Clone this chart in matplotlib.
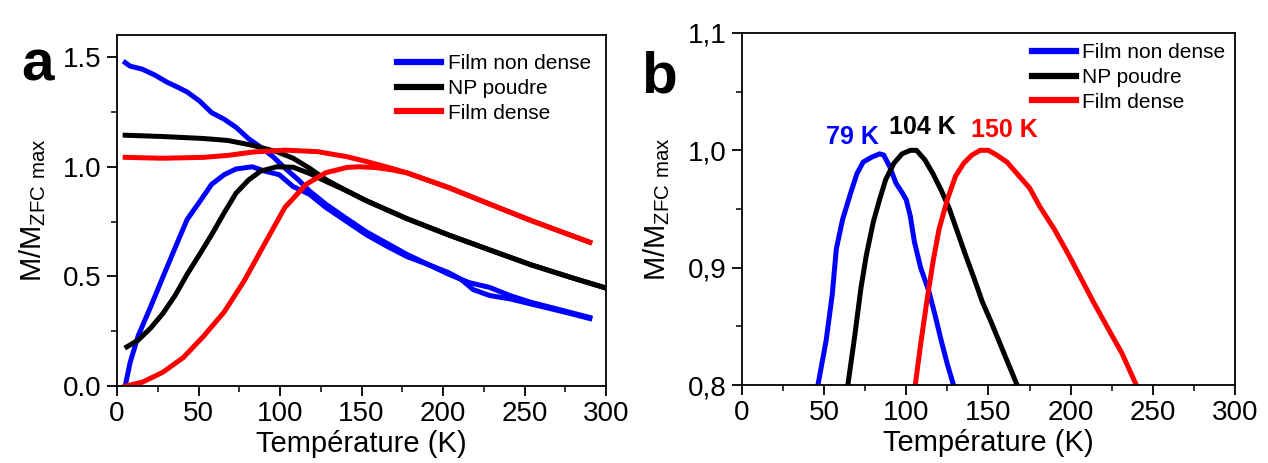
import matplotlib
matplotlib.use("Agg")
import matplotlib.pyplot as plt
from matplotlib.ticker import MultipleLocator, FuncFormatter

plt.rcParams['font.family'] = ['Liberation Sans', 'DejaVu Sans']
plt.rcParams['mathtext.default'] = 'regular'

# ---- panel a : ZFC / FC curves ----
t_blue_zfc = [5, 8, 13, 20.5, 28, 35.6, 43, 50.6, 58, 65.7, 73, 83, 90.7, 99.5, 108, 118, 128, 141,
              153, 166, 178, 191, 203.5, 211, 218.5, 228.6, 241, 253.6, 266, 278.7, 290]
m_blue_zfc = [0.0, 0.107, 0.23, 0.36, 0.495, 0.63, 0.76, 0.84, 0.92, 0.964, 0.99, 1.0, 0.98, 0.964,
              0.91, 0.875, 0.815, 0.75, 0.69, 0.636, 0.59, 0.554, 0.517, 0.487, 0.44, 0.413, 0.398,
              0.375, 0.353, 0.33, 0.308]
t_blue_fc = [5, 8, 15.5, 23, 30.6, 38, 43, 50.6, 58, 65.7, 73, 80.7, 88, 95.7, 103, 111, 118, 128,
             141, 153, 178, 203.5, 216, 228.6, 241, 253.6, 290]
m_blue_fc = [1.475, 1.459, 1.445, 1.419, 1.386, 1.36, 1.341, 1.3, 1.247, 1.217, 1.18, 1.128, 1.09,
             1.046, 0.994, 0.942, 0.89, 0.83, 0.763, 0.703, 0.6, 0.51, 0.472, 0.45, 0.413, 0.383, 0.313]

t_black_zfc = [6, 13, 20.5, 28, 35.6, 43, 50.6, 58, 65.7, 73, 80.7, 88, 98, 108, 118, 128, 141, 153,
               178, 203.5, 228.6, 253.6, 278.7, 300]
m_black_zfc = [0.179, 0.21, 0.264, 0.33, 0.413, 0.51, 0.6, 0.69, 0.79, 0.88, 0.94, 0.98, 1.0, 0.998,
               0.97, 0.934, 0.89, 0.845, 0.763, 0.689, 0.621, 0.554, 0.495, 0.447]
t_black_fc = [5, 28, 53, 68, 83, 98, 108, 118, 128, 141, 153, 178, 203.5, 228.6, 253.6, 278.7, 300]
m_black_fc = [1.144, 1.138, 1.129, 1.12, 1.098, 1.069, 1.039, 0.994, 0.942, 0.89, 0.845, 0.763,
              0.689, 0.621, 0.554, 0.495, 0.447]

t_red_zfc = [5, 15.5, 28, 40.6, 53, 65.7, 78, 90.7, 103, 116, 128, 141, 148, 158, 168, 178, 203.5,
             228.6, 253.6, 290]
m_red_zfc = [0.0, 0.018, 0.063, 0.13, 0.227, 0.338, 0.48, 0.651, 0.815, 0.92, 0.973, 0.997, 1.0,
             0.997, 0.987, 0.972, 0.905, 0.83, 0.756, 0.656]
t_red_fc = [5, 28, 53, 68, 83, 103, 123, 141, 153, 168, 178, 203.5, 228.6, 253.6, 290]
m_red_fc = [1.043, 1.039, 1.043, 1.052, 1.067, 1.076, 1.069, 1.046, 1.024, 0.994, 0.972, 0.905,
            0.83, 0.756, 0.656]

# ---- panel b : zoom around the maxima ----
t_b_blue = [46.3, 51.3, 55, 57.5, 61.3, 66.3, 70, 73.8, 78.8, 83.8, 86.3, 90, 93.8, 97.5, 100, 102.5,
            105, 108.8, 113.8, 117.5, 121.3, 125, 128.8]
m_b_blue = [0.80, 0.838, 0.877, 0.916, 0.941, 0.964, 0.98, 0.99, 0.994, 0.997, 0.996, 0.986, 0.972,
            0.964, 0.958, 0.944, 0.922, 0.9, 0.88, 0.86, 0.838, 0.818, 0.8]
t_b_black = [64.5, 68.8, 72.5, 75.8, 80, 83.8, 87.5, 92.5, 97.5, 102.5, 106.3, 111.3, 116.3, 121.3,
             126.3, 131.3, 136.3, 141.3, 146.3, 151.3, 156.3, 161.3, 167.5]
m_b_black = [0.8, 0.843, 0.883, 0.911, 0.939, 0.958, 0.975, 0.989, 0.997, 1.0, 1.0, 0.992, 0.98,
             0.966, 0.95, 0.93, 0.91, 0.891, 0.871, 0.855, 0.838, 0.821, 0.8]
t_b_red = [105.5, 108.8, 112.5, 116.3, 120, 125, 130, 135, 140, 145, 150, 155, 161.3, 167.5, 175,
           181.3, 190, 198.8, 206.3, 213.8, 222.5, 231.3, 240]
m_b_red = [0.8, 0.835, 0.871, 0.905, 0.933, 0.958, 0.978, 0.989, 0.996, 1.0, 1.0, 0.996, 0.99, 0.98,
           0.968, 0.952, 0.933, 0.911, 0.891, 0.871, 0.849, 0.827, 0.8]

labels = ["Film non dense", "NP poudre", "Film dense"]
colors = ["#0000ff", "#000000", "#ff0000"]
peak_text = ["79 K", "104 K", "150 K"]
peak_pos = [(67.5, 1.011), (109.6, 1.02), (160, 1.017)]

fig = plt.figure(figsize=(12.68, 4.63), dpi=100)
ax1 = fig.add_axes([0.0923, 0.166, 0.3857, 0.758])
ax2 = fig.add_axes([0.585, 0.168, 0.389, 0.761])

lw = 3.6
ax1.plot(t_blue_zfc, m_blue_zfc, color=colors[0], lw=lw, label=labels[0])
ax1.plot(t_blue_fc, m_blue_fc, color=colors[0], lw=lw)
ax1.plot(t_black_zfc, m_black_zfc, color=colors[1], lw=lw, label=labels[1])
ax1.plot(t_black_fc, m_black_fc, color=colors[1], lw=lw)
ax1.plot(t_red_zfc, m_red_zfc, color=colors[2], lw=lw, label=labels[2])
ax1.plot(t_red_fc, m_red_fc, color=colors[2], lw=lw)
ax1.set_xlim(0, 300)
ax1.set_ylim(0, 1.6)
ax1.yaxis.set_major_locator(MultipleLocator(0.5))
ax1.yaxis.set_minor_locator(MultipleLocator(0.25))
ax1.yaxis.set_major_formatter(FuncFormatter(lambda v, p: "%.1f" % v))

ax2.plot(t_b_blue, m_b_blue, color=colors[0], lw=lw, label=labels[0])
ax2.plot(t_b_black, m_b_black, color=colors[1], lw=lw, label=labels[1])
ax2.plot(t_b_red, m_b_red, color=colors[2], lw=lw, label=labels[2])
ax2.set_xlim(0, 300)
ax2.set_ylim(0.8, 1.1)
ax2.yaxis.set_major_locator(MultipleLocator(0.1))
ax2.yaxis.set_minor_locator(MultipleLocator(0.05))
ax2.yaxis.set_major_formatter(FuncFormatter(lambda v, p: ("%.1f" % v).replace(".", ",")))
for txt, (x, y), c in zip(peak_text, peak_pos, colors):
    ax2.text(x, y, txt, color=c, fontsize=18, fontweight='bold', ha='center', va='center')

for ax in (ax1, ax2):
    ax.xaxis.set_major_locator(MultipleLocator(50))
    ax.xaxis.set_minor_locator(MultipleLocator(25))
    ax.tick_params(which='major', direction='out', length=7, width=1.3, labelsize=20, pad=4)
    ax.tick_params(which='minor', direction='out', length=4, width=1.1)
    for s in ax.spines.values():
        s.set_linewidth(1.3)
    ax.set_xlabel("Température (K)", fontsize=21, labelpad=2)
    ax.set_ylabel("M/M$_{ZFC\\ max}$", fontsize=21, labelpad=11)
    leg = ax.legend(loc='upper left', frameon=False, fontsize=15, handlelength=2.1,
                    handletextpad=0.33, labelspacing=0.27, borderpad=0, borderaxespad=0)
    for h in leg.get_lines():
        h.set_linewidth(4.5)

ax1.get_legend().set_bbox_to_anchor((0.573, 0.945), transform=ax1.transAxes)
ax2.get_legend().set_bbox_to_anchor((0.588, 0.97), transform=ax2.transAxes)

fig.text(0.017, 0.827, "a", fontsize=42, fontweight='bold')
fig.text(0.506, 0.801, "b", fontsize=42, fontweight='bold')

fig.savefig("out.png", dpi=100)
